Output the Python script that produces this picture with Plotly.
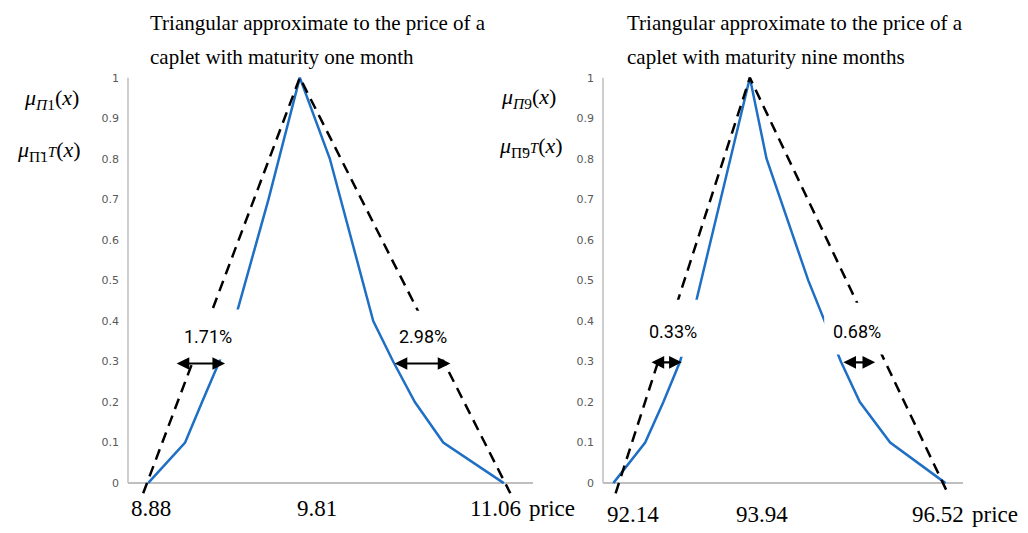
import plotly.graph_objects as go

# ---------------- data ----------------
# Left panel: caplet with maturity one month
m1_price = [8.88, 9.107, 9.211, 9.317, 9.41, 9.618, 9.81, 9.994, 10.26, 10.382, 10.515, 10.689, 11.06]
m1_mu = [0, 0.1, 0.2, 0.3, 0.4, 0.7, 1, 0.8, 0.4, 0.3, 0.2, 0.1, 0]
m1_tri_price = [8.85, 9.81, 11.10]
m1_tri_mu = [-0.025, 1, -0.025]
m1_ticks = [8.88, 9.81, 11.06]
m1_tick_text = ["8.88", "9.81", "11.06"]
m1_err_labels = ["1.71%", "2.98%"]
m1_arrow_left = [9.046, 9.352]
m1_arrow_right = [10.382, 10.733]

# Right panel: caplet with maturity nine months
m9_price = [92.14, 92.56, 92.80, 93.02, 93.17, 93.94, 94.16, 94.71, 95.14, 95.39, 95.79, 96.52]
m9_mu = [0, 0.1, 0.2, 0.3, 0.4, 1, 0.8, 0.5, 0.3, 0.2, 0.1, 0]
m9_tri_price = [92.17, 93.94, 96.55]
m9_tri_mu = [-0.025, 1, -0.025]
m9_ticks = [92.14, 93.94, 96.52]
m9_tick_text = ["92.14", "93.94", "96.52"]
m9_err_labels = ["0.33%", "0.68%"]
m9_arrow_left = [92.624, 93.042]
m9_arrow_right = [95.153, 95.592]

y_ticks = [0, 0.1, 0.2, 0.3, 0.4, 0.5, 0.6, 0.7, 0.8, 0.9, 1]
y_tick_text = ["0", "0.1", "0.2", "0.3", "0.4", "0.5", "0.6", "0.7", "0.8", "0.9", "1"]

BLUE = "#1F6FC5"
SERIF = "Liberation Serif, Times New Roman, serif"
SANS_N = "Liberation Sans Narrow, Roboto, Liberation Sans, Arial, sans-serif"

fig = go.Figure()

for xs, ys, xa, ya in [(m1_price, m1_mu, "x", "y"), (m9_price, m9_mu, "x2", "y2")]:
    fig.add_trace(go.Scatter(x=xs, y=ys, mode="lines", xaxis=xa, yaxis=ya,
                             line=dict(color=BLUE, width=2.5), showlegend=False,
                             hoverinfo="skip"))
for xs, ys, xa, ya in [(m1_tri_price, m1_tri_mu, "x", "y"), (m9_tri_price, m9_tri_mu, "x2", "y2")]:
    fig.add_trace(go.Scatter(x=xs, y=ys, mode="lines", xaxis=xa, yaxis=ya,
                             line=dict(color="black", width=2.5, dash="11px,7px"),
                             showlegend=False, hoverinfo="skip"))

ydom = [0.0672, 0.8651]
yax = dict(range=[-0.035, 1.01], domain=ydom, showgrid=False, showline=False,
           zeroline=True, zerolinecolor="#BFBFBF", zerolinewidth=1.5,
           tickmode="array", tickvals=y_ticks, ticktext=y_tick_text, ticks="",
           ticklabelstandoff=8,
           tickfont=dict(family="DejaVu Sans", size=11, color="#595959"))
xax = dict(showgrid=False, showline=False, zeroline=False, showticklabels=False, ticks="")

fig.update_layout(
    width=1028, height=533,
    margin=dict(l=0, r=0, t=0, b=0),
    paper_bgcolor="white", plot_bgcolor="white",
    xaxis=dict(xax, domain=[0.12451, 0.51848], range=[8.757, 11.239], anchor="y"),
    yaxis=dict(yax, anchor="x"),
    xaxis2=dict(xax, domain=[0.58658, 0.93677], range=[92.004, 96.75], anchor="y2"),
    yaxis2=dict(yax, anchor="x2"),
)

shapes = []
# vertical axis lines
for xr, yr in [("x domain", "y"), ("x2 domain", "y2")]:
    shapes.append(dict(type="line", xref=xr, yref=yr, x0=0, x1=0, y0=0, y1=1.0,
                       line=dict(color="#BFBFBF", width=1.5), layer="below"))
# white label boxes
boxes = [("x", "y", 9.107, 9.444, 0.305, 0.428), ("x", "y", 10.41, 10.74, 0.305, 0.425),
         ("x2", "y2", 92.60, 93.26, 0.312, 0.452), ("x2", "y2", 94.92, 95.83, 0.317, 0.445)]
for xr, yr, x0, x1, y0, y1 in boxes:
    shapes.append(dict(type="rect", xref=xr, yref=yr, x0=x0, x1=x1, y0=y0, y1=y1,
                       fillcolor="white", line=dict(width=0), layer="above"))
fig.update_layout(shapes=shapes)

ann = []
# titles
for x0, l2 in [(148, "caplet with maturity one month"), (625, "caplet with maturity nine months")]:
    ann.append(dict(text="Triangular approximate to the price of a", xref="paper", yref="paper",
                    x=x0 / 1028, y=1 - 21 / 533, xanchor="left", yanchor="middle", showarrow=False,
                    font=dict(family=SERIF, size=21, color="black")))
    ann.append(dict(text=l2, xref="paper", yref="paper",
                    x=x0 / 1028, y=1 - 55 / 533, xanchor="left", yanchor="middle", showarrow=False,
                    font=dict(family=SERIF, size=21, color="black")))

# membership labels
for (xa, ya), (xb, yb), n in [((51, 97), (49, 150), "1"), ((528, 96), (531, 146), "9")]:
    ann.append(dict(text="<i>μ</i><sub><i>Π</i>" + n + "</sub>(<i>x</i>)", xref="paper", yref="paper",
                    x=xa / 1028, y=1 - ya / 533, xanchor="center", yanchor="middle", showarrow=False,
                    font=dict(family=SERIF, size=22, color="black")))
    ann.append(dict(text="<i>μ</i><sub>Π\u0303" + n + "</sub><span style='font-size:15px'><i>T</i></span>(<i>x</i>)",
                    xref="paper", yref="paper",
                    x=xb / 1028, y=1 - yb / 533, xanchor="center", yanchor="middle", showarrow=False,
                    font=dict(family=SERIF, size=22, color="black")))

# x tick labels
for xr, yr, ticks, texts, shifts, ysh, pshift in [
        ("x", "y", m1_ticks, m1_tick_text, [3, 17, -8], -25, 48),
        ("x2", "y2", m9_ticks, m9_tick_text, [20, 12, -8], -31, 49)]:
    for t, s, sh in zip(ticks, texts, shifts):
        ann.append(dict(text=s, xref=xr, yref=yr, x=t, y=0, xshift=sh, yshift=ysh,
                        showarrow=False, xanchor="center", yanchor="middle",
                        font=dict(family=SERIF, size=23, color="black")))
    ann.append(dict(text="price", xref=xr, yref=yr, x=ticks[-1], y=0, xshift=pshift, yshift=ysh,
                    showarrow=False, xanchor="center", yanchor="middle",
                    font=dict(family=SERIF, size=23, color="black")))

# percent labels
for xr, yr, labels, pos in [("x", "y", m1_err_labels, [(9.248, 0.362), (10.567, 0.362)]),
                            ("x2", "y2", m9_err_labels, [(92.927, 0.375), (95.35, 0.375)])]:
    for lab, (px, py) in zip(labels, pos):
        ann.append(dict(text=lab, xref=xr, yref=yr, x=px, y=py, showarrow=False,
                        xanchor="center", yanchor="middle",
                        font=dict(family=SANS_N, size=18, color="black")))

# double-headed arrows
for xr, yr, ay_, segs in [("x", "y", 0.295, [m1_arrow_left, m1_arrow_right]),
                          ("x2", "y2", 0.298, [m9_arrow_left, m9_arrow_right])]:
    for a, b in segs:
        ann.append(dict(text="", xref=xr, yref=yr, x=b, y=ay_, ax=a, ay=ay_,
                        axref=xr, ayref=yr, showarrow=True, arrowhead=2, startarrowhead=2,
                        arrowside="end+start", arrowsize=1.15, startarrowsize=1.15,
                        arrowwidth=2.2, arrowcolor="black", standoff=0, startstandoff=0))

fig.update_layout(annotations=ann)

fig.write_html("out.html", config={"displayModeBar": False},
               post_script="document.body.style.margin='0';document.body.style.overflow='hidden';")
